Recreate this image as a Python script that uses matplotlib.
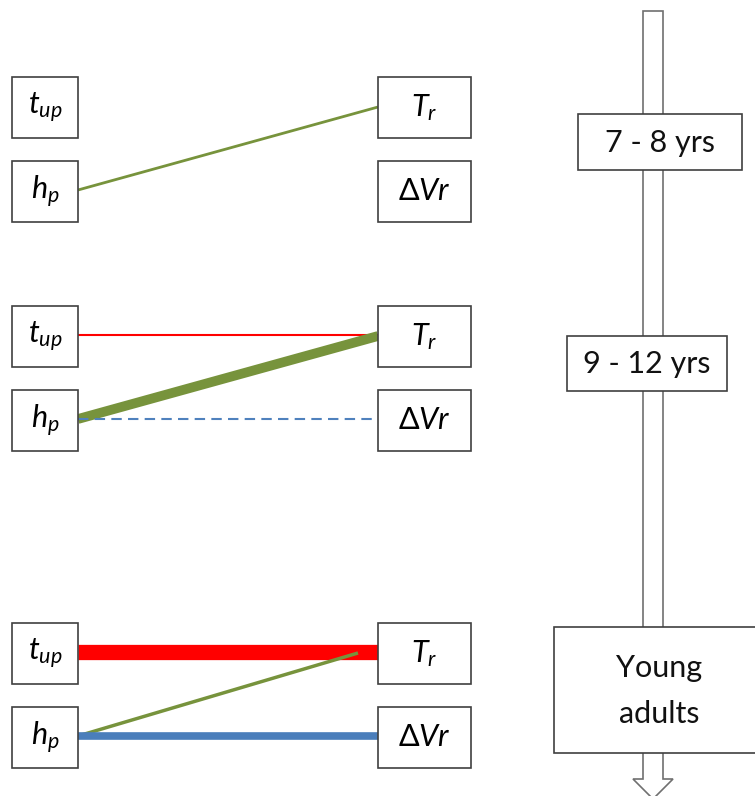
import matplotlib
matplotlib.use("Agg")
import matplotlib.pyplot as plt
from matplotlib.patches import Rectangle, Polygon

plt.rcParams['mathtext.fontset'] = 'custom'
plt.rcParams['mathtext.it'] = 'Lato:italic'
plt.rcParams['mathtext.rm'] = 'Lato'

# ---- data ----
age_groups = ["7 - 8 yrs", "9 - 12 yrs", "Young\nadults"]
left_nodes = [r"$t_{up}$", r"$h_p$"]
right_nodes = [r"$T_r$", r"$\mathit{\Delta Vr}$"]
# connections per age group: (left index, right index, colour, width, style)
connections = [
    [(1, 0, "#77933C", 2.0, "-")],
    [(0, 0, "#FF0000", 1.5, "-"),
     (1, 0, "#77933C", 7.0, "-"),
     (1, 1, "#4F81BD", 1.5, (0, (5, 3)))],
    [(0, 0, "#FF0000", 11.0, "-"),
     (1, 0, "#77933C", 2.5, "-"),
     (1, 1, "#4A7EBB", 5.5, "-")],
]

# ---- layout (pixel space) ----
W, H = 755, 796
fig = plt.figure(figsize=(W / 100, H / 100), dpi=100)
ax = fig.add_axes([0, 0, 1, 1])
ax.set_xlim(0, W)
ax.set_ylim(H, 0)
ax.axis("off")

group_top = [77, 306, 623]
row_off = [0, 84]
box_h = 61
lx0, lx1 = 12, 78
rx0, rx1 = 378, 471
edge = "#404040"
lab_fs = 22

for g, top in enumerate(group_top):
    for i, name in enumerate(left_nodes):
        y0 = top + row_off[i]
        ax.add_patch(Rectangle((lx0, y0), lx1 - lx0, box_h, fc="white", ec=edge, lw=1.2, zorder=3))
        ax.text((lx0 + lx1) / 2, y0 + box_h / 2, name, ha="center", va="center", fontsize=lab_fs, zorder=4)
    for i, name in enumerate(right_nodes):
        y0 = top + row_off[i]
        ax.add_patch(Rectangle((rx0, y0), rx1 - rx0, box_h, fc="white", ec=edge, lw=1.2, zorder=3))
        ax.text((rx0 + rx1) / 2, y0 + box_h / 2, name, ha="center", va="center", fontsize=lab_fs, zorder=4)
    for (li, ri, col, lw, ls) in connections[g]:
        ly = top + row_off[li] + 29
        ry = top + row_off[ri] + 30
        if li == ri:
            ry = ly
        xend = rx0
        if li == 1 and ri == 0 and g == 2:
            xend = 358
        ax.plot([lx1, xend], [ly, ry], color=col, lw=lw, ls=ls,
                solid_capstyle="butt", zorder=2)

# ---- timeline arrow ----
sx0, sx1 = 643, 663
ax.add_patch(Polygon([(sx0, 11), (sx1, 11), (sx1, 779), (673, 779), (653, 799),
                      (633, 779), (sx0, 779)], closed=True, fc="white", ec="#707070",
                     lw=1.2, zorder=1))

age_boxes = [(578, 114, 164, 56), (567, 336, 160, 55), (554, 627, 210, 126)]
for (x0, y0, w, h), lab in zip(age_boxes, age_groups):
    ax.add_patch(Rectangle((x0, y0), w, h, fc="white", ec=edge, lw=1.2, zorder=3))
    cx = x0 + w / 2 if lab != age_groups[2] else 659
    ax.text(cx, y0 + h / 2 + 1, lab, ha="center", va="center", fontsize=22,
            family="Lato", color="#111111", linespacing=1.75, zorder=4)

fig.savefig("out.png", dpi=100)
